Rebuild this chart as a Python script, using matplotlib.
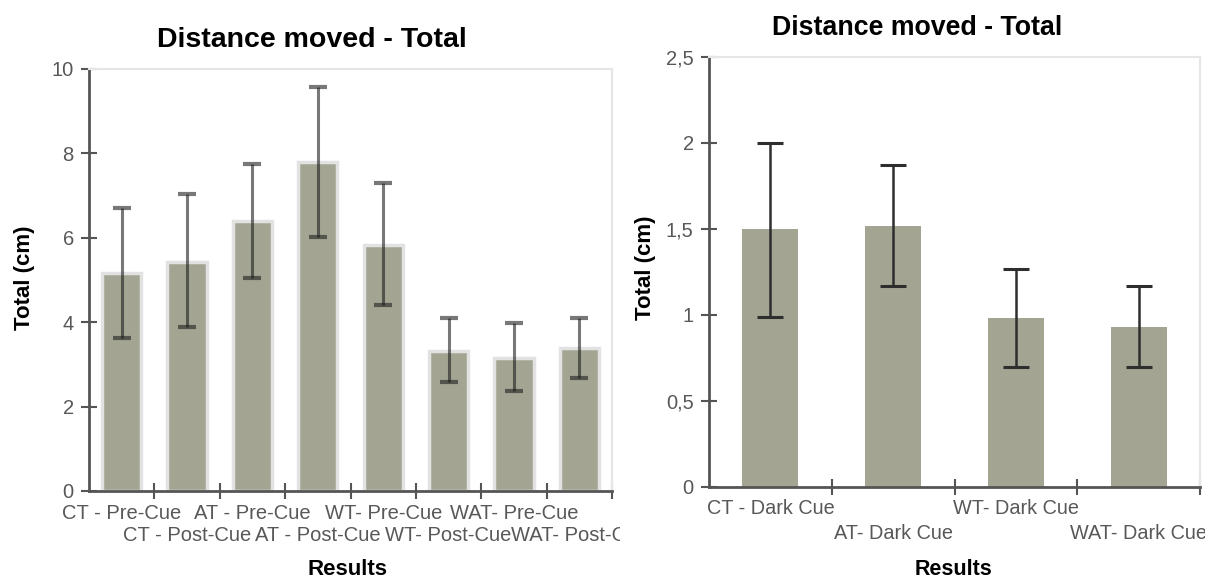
import numpy as np
import matplotlib
matplotlib.use("Agg")
import matplotlib.pyplot as plt
from matplotlib.transforms import Bbox

plt.rcParams['font.family'] = ['Liberation Sans', 'DejaVu Sans']

# left chart: pre/post cue
groups_l = ["CT - Pre-Cue", "CT - Post-Cue", "AT - Pre-Cue", "AT - Post-Cue",
            "WT- Pre-Cue", "WT- Post-Cue", "WAT- Pre-Cue", "WAT- Post-Cue"]
mean_l = [5.17, 5.43, 6.40, 7.80, 5.83, 3.32, 3.15, 3.39]
err_lo_l = [1.54, 1.54, 1.35, 1.78, 1.42, 0.74, 0.78, 0.71]
err_hi_l = [1.54, 1.61, 1.35, 1.77, 1.47, 0.78, 0.83, 0.71]
yticks_l = [0, 2, 4, 6, 8, 10]

# right chart: dark cue
groups_r = ["CT - Dark Cue", "AT- Dark Cue", "WT- Dark Cue", "WAT- Dark Cue"]
mean_r = [1.50, 1.52, 0.98, 0.93]
err_lo_r = [0.51, 0.35, 0.28, 0.23]
err_hi_r = [0.50, 0.35, 0.29, 0.24]
yticks_r = [0, 0.5, 1, 1.5, 2, 2.5]
yticklabels_r = ["0", "0,5", "1", "1,5", "2", "2,5"]

BAR = "#a3a592"
SPINE = "#555555"
FRAME = "#e6e6e6"
TICKC = "#585858"

fig = plt.figure(figsize=(12.05, 5.79), dpi=100)


def style_axes(ax, groups, ymax, yt, ytl, fs, pad1, pad2):
    n = len(groups)
    x = np.arange(n)
    ax.set_xlim(-0.5, n - 0.5)
    ax.set_ylim(0, ymax)
    for s in ["top", "right"]:
        ax.spines[s].set_color(FRAME)
        ax.spines[s].set_linewidth(1.5)
    for s in ["left", "bottom"]:
        ax.spines[s].set_color(SPINE)
        ax.spines[s].set_linewidth(2)
    ax.set_yticks(yt)
    ax.set_yticklabels(ytl)
    ax.tick_params(axis="y", direction="inout", length=12, width=1.5,
                   color=SPINE, labelsize=14.5, labelcolor=TICKC, pad=5)
    # tick marks at category boundaries
    ax.set_xticks(x + 0.5)
    ax.set_xticklabels([])
    ax.tick_params(axis="x", which="major", direction="inout", length=12,
                   width=1.5, color=SPINE)
    # first row of labels (even groups)
    ax.set_xticks(x[::2], minor=True)
    ax.set_xticklabels(groups[::2], minor=True)
    ax.tick_params(axis="x", which="minor", length=0, labelsize=fs,
                   labelcolor=TICKC, pad=pad1)
    # second row (odd groups)
    sec = ax.secondary_xaxis("bottom")
    sec.spines["bottom"].set_visible(False)
    sec.set_xticks(x[1::2])
    sec.set_xticklabels(groups[1::2])
    sec.tick_params(axis="x", length=0, labelsize=fs, labelcolor=TICKC, pad=pad2)
    for lab in ax.get_xticklabels(minor=True) + sec.get_xticklabels():
        lab.set_clip_on(False)
    return sec


# ---- left
ax1 = fig.add_axes([0.0739, 0.152, 0.434, 0.729])
x1 = np.arange(len(groups_l))
ax1.bar(x1, mean_l, width=0.6, color=BAR, edgecolor="#e2e2e2", linewidth=2.5, zorder=2)
ax1.errorbar(x1, mean_l, yerr=[err_lo_l, err_hi_l], fmt="none", ecolor="#1e1e1e",
             elinewidth=2.2, capsize=6.7, capthick=3, alpha=0.6, zorder=3)
sec1 = style_axes(ax1, groups_l, 10, yticks_l, [str(v) for v in yticks_l], 14.5, 9.4, 25)
# the left picture is cut at x=620 px, last label is cut there too
cut = Bbox.from_extents(0, 0, 620, 579)
last = sec1.get_xticklabels()[-1]
last.set_clip_on(True)
last.set_clip_box(cut)
ax1.set_title("Distance moved - Total", fontsize=20.5, fontweight="bold", pad=16, x=0.426)
ax1.set_ylabel("Total (cm)", fontsize=16, fontweight="bold")
ax1.yaxis.set_label_coords(-0.103, 0.505)
ax1.set_xlabel("Results", fontsize=16, fontweight="bold")
ax1.xaxis.set_label_coords(0.495, -0.161)

# ---- right
ax2 = fig.add_axes([0.5884, 0.1589, 0.4075, 0.7427])
x2 = np.arange(len(groups_r))
ax2.bar(x2, mean_r, width=0.457, color=BAR, edgecolor="none", zorder=2)
ax2.errorbar(x2, mean_r, yerr=[err_lo_r, err_hi_r], fmt="none", ecolor="#2e2e2e",
             elinewidth=1.8, capsize=9.7, capthick=2.2, zorder=3)
style_axes(ax2, groups_r, 2.5, yticks_r, yticklabels_r, 14.3, 8.5, 27)
ax2.set_title("Distance moved - Total", fontsize=19.3, fontweight="bold", pad=16, x=0.424)
ax2.set_ylabel("Total (cm)", fontsize=16, fontweight="bold")
ax2.yaxis.set_label_coords(-0.108, 0.51)
ax2.set_xlabel("Results", fontsize=15.5, fontweight="bold")
ax2.xaxis.set_label_coords(0.497, -0.167)

fig.savefig("out.png", dpi=100)
